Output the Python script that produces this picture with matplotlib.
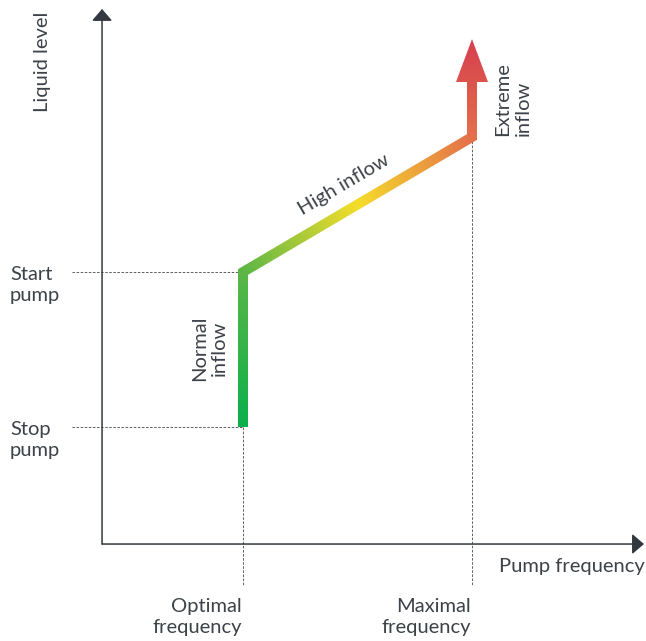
import numpy as np
import matplotlib
matplotlib.use("Agg")
import matplotlib.pyplot as plt
from matplotlib.colors import LinearSegmentedColormap
from matplotlib.path import Path

plt.rcParams['font.family'] = ['Lato', 'DejaVu Sans']

# ---------------- data ----------------
freq_values = [30, 50]
freq_labels = ["Optimal\nfrequency", "Maximal\nfrequency"]
level_values = [1.0, 2.0]
level_labels = ["Stop\npump", "Start\npump"]

curve_freq = [30, 30, 50, 50]
curve_level = [1.0, 2.0, 2.871, 3.226]
arrow_tip_level = 3.503

axis_origin = (17.69, 0.245)
axis_end_freq = 65.02
axis_end_level = 3.697

grad_stops = [0.0, 0.30, 0.555, 0.81, 1.0]
grad_colors = ["#0bb04c", "#5cb746", "#f5dd2a", "#e5704b", "#d6404f"]

# ---------------- figure ----------------
fig = plt.figure(figsize=(6.46, 6.41), dpi=100)
ax = fig.add_axes([0, 0, 1, 1])
ax.set_xlim(8.777, 65.197)
ax.set_ylim(-0.3806, 3.755)
ax.set_autoscale_on(False)
ax.axis("off")

text_color = "#3d4248"
axis_color = "#333940"
dash_color = "#5a5f66"
fs = 14.5

# axes with arrows
for end in [(axis_end_freq, axis_origin[1]), (axis_origin[0], axis_end_level)]:
    ax.annotate("", xy=end, xytext=axis_origin,
                arrowprops=dict(arrowstyle="-|>,head_length=0.72,head_width=0.62",
                                mutation_scale=10, lw=1.1, color=axis_color,
                                shrinkA=0, shrinkB=0))

# dashed guide lines
dash = (0, (2.6, 1.6))
for lv in level_values:
    ax.plot([15.07, freq_values[0]], [lv, lv], ls=dash, lw=0.7, color=dash_color)
ax.plot([freq_values[0], freq_values[0]], [level_values[0], -0.026], ls=dash, lw=0.7, color=dash_color)
ax.plot([freq_values[1], freq_values[1]], [curve_level[2], -0.026], ls=dash, lw=0.7, color=dash_color)

# ---------------- gradient thick path ----------------
fig.canvas.draw()
T = ax.transData
pts = T.transform(np.column_stack([curve_freq, curve_level]))
tip = T.transform([[curve_freq[-1], arrow_tip_level]])[0]
w = 5.0     # half width px
hw = 16.0   # arrowhead half width px

dirs = []
for i in range(len(pts) - 1):
    d = pts[i + 1] - pts[i]
    dirs.append(d / np.linalg.norm(d))
normals = [np.array([-d[1], d[0]]) for d in dirs]
left, right = [], []
n = len(pts)
for i in range(n):
    if i == 0:
        m, L = normals[0], w
    elif i == n - 1:
        m, L = normals[-1], w
    else:
        m = normals[i - 1] + normals[i]
        m = m / np.linalg.norm(m)
        L = w / np.dot(m, normals[i])
    left.append(pts[i] + m * L)
    right.append(pts[i] - m * L)
base_l = pts[-1] + normals[-1] * hw
base_r = pts[-1] - normals[-1] * hw
poly = np.array(right + [base_r, tip, base_l] + left[::-1])

x0, y0 = np.floor(poly.min(axis=0)) - 2
x1, y1 = np.ceil(poly.max(axis=0)) + 2
nx, ny = int(x1 - x0), int(y1 - y0)

cl = np.array([pts[0], pts[1], pts[2], tip])
seg_len = np.linalg.norm(np.diff(cl, axis=0), axis=1)
cum = np.concatenate([[0], np.cumsum(seg_len)])
total = cum[-1]

xs = x0 + np.arange(nx) + 0.5
ys = y0 + np.arange(ny) + 0.5
X, Y = np.meshgrid(xs, ys)
P = np.stack([X, Y], axis=-1)
best_d = np.full(X.shape, np.inf)
best_t = np.zeros(X.shape)
for k in range(len(cl) - 1):
    a, b = cl[k], cl[k + 1]
    ab = b - a
    u = np.clip(((P - a) @ ab) / (ab @ ab), 0, 1)
    proj = a + u[..., None] * ab
    d = np.linalg.norm(P - proj, axis=-1)
    better = d < best_d
    best_d = np.where(better, d, best_d)
    best_t = np.where(better, (cum[k] + u * seg_len[k]) / total, best_t)

cmap = LinearSegmentedColormap.from_list("flow", list(zip(grad_stops, grad_colors)))
rgba = cmap(best_t)

path = Path(poly)
ss = 4
cov = np.zeros(X.shape)
for sx in range(ss):
    for sy in range(ss):
        q = np.column_stack([(X - 0.5 + (sx + 0.5) / ss).ravel(),
                             (Y - 0.5 + (sy + 0.5) / ss).ravel()])
        cov += path.contains_points(q).reshape(X.shape)
rgba[..., 3] = cov / ss ** 2

inv = T.inverted()
(ex0, ey0) = inv.transform([x0, y0])
(ex1, ey1) = inv.transform([x1, y1])
ax.imshow(rgba, extent=[ex0, ex1, ey0, ey1], origin="lower",
          interpolation="nearest", aspect="auto", zorder=3)
ax.set_xlim(8.777, 65.197)
ax.set_ylim(-0.3806, 3.755)

# ---------------- text ----------------
tk = dict(color=text_color, fontsize=fs, fontweight="normal")
ls = 1.27
ax.text(12.45, 3.355, "Liquid level", rotation=90, ha="center", va="center", **tk)
ax.text(9.65, level_values[1] - 0.085, level_labels[1], ha="left", va="center", linespacing=ls, **tk)
ax.text(9.65, level_values[0] - 0.085, level_labels[0], ha="left", va="center", linespacing=ls, **tk)
ax.text(freq_values[0] - 2.9, 1.505, "Normal\ninflow", rotation=90, ha="center", va="center",
        linespacing=1.2, **tk)
ax.text(38.82, 2.561, "High inflow", rotation=30.5, ha="center", va="center", **tk)
ax.text(53.58, 3.119, "Extreme\ninflow", rotation=90, ha="center", va="center",
        multialignment="left", linespacing=1.2, **tk)
for fv, fl in zip(freq_values, freq_labels):
    ax.text(fv - 0.1, -0.225, fl, ha="right", va="center", linespacing=ls, **tk)
ax.text(axis_end_freq + 0.1, 0.102, "Pump frequency", ha="right", va="center", **tk)

fig.savefig("out.png", dpi=100)
